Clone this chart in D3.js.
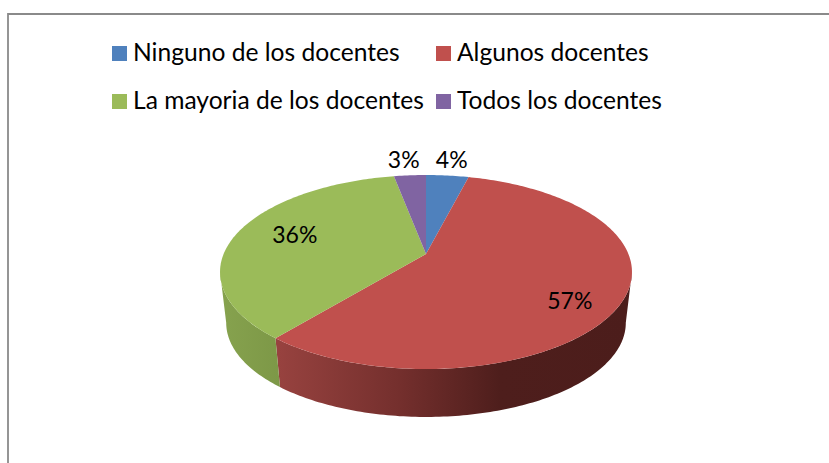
<!DOCTYPE html>
<html>
<meta charset="utf-8">
<script src="https://d3js.org/d3.v7.min.js"></script>
<style>
    html, body { margin: 0; background: #fff; overflow: hidden; }
    text { font-family: Lato, "Open Sans", sans-serif; fill: #000; }
</style>
<body>
    <svg xmlns="http://www.w3.org/2000/svg" width="829" height="463"></svg>
    <script>
        const categories = ["Ninguno de los docentes", "Algunos docentes", "La mayoria de los docentes", "Todos los docentes"];
        const values = [4, 57, 36, 3];
        const colors = ["#4f81bd", "#c0504d", "#9bbb59", "#8064a2"];

        const svg = d3.select("svg");
        const cx = 426, cy = 254, radius = 202.4, squash = 93.66, persp = 0.1856;
        const depthScale = 0.97, depthY = 305.4;

        // project a pie angle onto the tilted disc, top face or bottom rim
        function project(angle, level) {
            const u = Math.sin(angle), v = -Math.cos(angle);
            const f = 1 / (1 - persp * v);
            const s = level ? depthScale : 1;
            return [cx + s * radius * u * f, (level ? depthY : cy) + s * squash * v * f];
        }
        function rim(a0, a1, level) {
            const n = Math.max(2, Math.ceil((a1 - a0) * 60));
            return d3.range(n + 1).map(i => project(a0 + (a1 - a0) * i / n, level));
        }
        const line = d3.line();
        const arcs = d3.pie().sort(null).value(d => d)(values);

        // chart frame
        svg.append("path").attr("d", "M8,463V14H829").attr("fill", "none").attr("stroke", "#8a8a8a").attr("stroke-width", 1.8);

        // legend
        const legendX = d3.scalePoint().domain([0, 1]).range([112, 436]);
        const legendY = d3.scalePoint().domain([0, 1]).range([53, 101]);
        const legend = svg.selectAll("g.legend").data(categories).enter().append("g")
            .attr("class", "legend")
            .attr("transform", (d, i) => `translate(${legendX(i % 2)},${legendY(Math.floor(i / 2))})`);
        legend.append("rect").attr("y", -7).attr("width", 15).attr("height", 15).attr("fill", (d, i) => colors[i]);
        legend.append("text").attr("x", 21).attr("y", 8).attr("font-size", 24.6).text(d => d);

        // side wall gradients
        const defs = svg.append("defs");
        const sideStops = {
            red: [[279, "#97423f"], [400, "#742f2d"], [500, "#4e1e1c"], [630, "#4c1d1b"]],
            green: [[222, "#86a24e"], [279, "#7d9847"]]
        };
        Object.keys(sideStops).forEach(k => {
            const stops = sideStops[k];
            const g = defs.append("linearGradient").attr("id", "side-" + k)
                .attr("gradientUnits", "userSpaceOnUse")
                .attr("x1", stops[0][0]).attr("x2", stops[stops.length - 1][0]).attr("y1", 0).attr("y2", 0);
            stops.forEach(s => g.append("stop")
                .attr("offset", (s[0] - stops[0][0]) / (stops[stops.length - 1][0] - stops[0][0]))
                .attr("stop-color", s[1]));
        });

        // front wall: only between the rim's left and right extremes
        const frontStart = Math.acos(-persp), frontEnd = 2 * Math.PI - frontStart;
        const redEnd = arcs[1].endAngle;
        const wall = (a0, a1) => line(rim(a0, a1, 0).concat(rim(a0, a1, 1).reverse())) + "Z";
        svg.append("path").attr("d", wall(frontStart, redEnd)).attr("fill", "url(#side-red)");
        svg.append("path").attr("d", wall(redEnd, frontEnd)).attr("fill", "url(#side-green)");

        // top face
        svg.selectAll("path.slice").data(arcs).enter().append("path")
            .attr("class", "slice")
            .attr("d", d => line([[cx, cy]].concat(rim(d.startAngle, d.endAngle, 0))) + "Z")
            .attr("fill", (d, i) => colors[i]);

        // labels sit at a fraction of the radius, nudged like the original
        const labelR = [1.2, 0.73, 0.7, 1.2];
        const labelDx = [0, 0, 0, -3];
        const labelDy = [0, 13, -3, 0];
        svg.selectAll("text.pct").data(arcs).enter().append("text")
            .attr("class", "pct")
            .attr("text-anchor", "middle")
            .attr("font-size", 23)
            .attr("transform", (d, i) => {
                const a = (d.startAngle + d.endAngle) / 2;
                const u = Math.sin(a), v = -Math.cos(a), f = 1 / (1 - persp * v);
                const x = cx + radius * labelR[i] * u * f + labelDx[i];
                const y = cy + squash * labelR[i] * v * f + labelDy[i];
                return `translate(${x},${y + 8})`;
            })
            .text(d => d.value + "%");
    </script>
</body>
</html>
